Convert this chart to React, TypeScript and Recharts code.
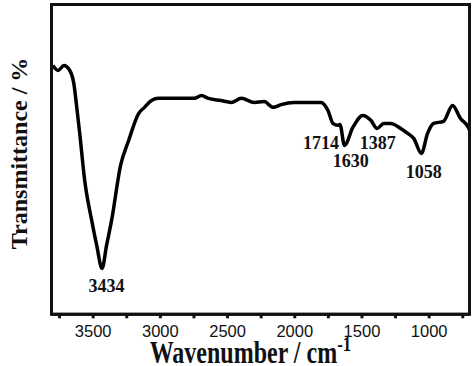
import {
  ComposedChart,
  Line,
  XAxis,
  YAxis,
  ReferenceDot,
  Label,
} from "recharts";

// FTIR spectrum (cm-1 vs relative transmittance)
const wavenumbers = [
  3800, 3760, 3718, 3674, 3644, 3622, 3600, 3563, 3511, 3474, 3434, 3400,
  3363, 3296, 3236, 3162, 3118, 3066, 3014, 2900, 2800, 2747, 2695, 2643,
  2550, 2473, 2398, 2302, 2228, 2161, 2102, 2005, 1900, 1805, 1753, 1716,
  1679, 1664, 1630, 1568, 1494, 1434, 1387, 1338, 1286, 1212, 1160, 1115,
  1058, 1012, 967, 893, 826, 767, 708, 700,
];
const transmittance = [
  80.3, 78.7, 80.3, 78.7, 74.5, 66.8, 58.4, 43.2, 30.3, 22.3, 14.8, 22.3,
  30.3, 48.1, 56.1, 64.8, 66.8, 69.0, 69.7, 69.7, 69.7, 69.7, 70.6, 69.7,
  69.0, 68.4, 69.7, 68.4, 68.7, 66.8, 67.7, 68.4, 68.4, 68.4, 65.8, 61.6,
  61.0, 61.3, 54.5, 60.3, 64.2, 62.6, 60.0, 61.6, 61.6, 60.0, 58.4, 56.8,
  51.9, 58.4, 61.6, 62.3, 67.4, 63.2, 60.3, 59.5,
];

const xTicks = [3750, 3500, 3250, 3000, 2750, 2500, 2250, 2000, 1750, 1500, 1250, 1000, 750];

// peak labels: text, wavenumber of text centre, transmittance of text baseline
const peakTexts = ["3434", "1714", "1387", "1630", "1058"];
const peakX = [3400, 1805, 1382, 1583, 1041];
const peakY = [7.1, 53.5, 53.5, 47.4, 43.9];

const data = wavenumbers.map((wn, i) => ({ wn, t: transmittance[i] }));

const serif = "'Liberation Serif', 'Times New Roman', serif";
const sans = "'Liberation Sans', Arial, sans-serif";
const PLOT_TOP = 4.5;

// frame + both axis titles, drawn from the bottom axis' box
const Decor = (props: any) => {
  const { x, y, width } = props.viewBox;
  return (
    <g>
      <rect
        x={x}
        y={PLOT_TOP}
        width={width}
        height={y - PLOT_TOP}
        fill="none"
        stroke="#111"
        strokeWidth={3}
      />
      <g transform={`translate(${x + width / 2 - 10}, ${y + 49}) scale(1, 1.28)`}>
        <text
          x={0}
          y={0}
          textAnchor="middle"
          fontFamily={serif}
          fontWeight="bold"
          fontSize={24}
          fill="#111"
        >
          Wavenumber / cm
          <tspan fontSize={17} dy={-10}>
            -1
          </tspan>
        </text>
      </g>
      <text
        transform={`translate(${x - 24.5}, ${(y + PLOT_TOP) / 2 - 6}) rotate(-90)`}
        textAnchor="middle"
        fontFamily={serif}
        fontWeight="bold"
        fontSize={24}
        fill="#111"
      >
        Transmittance / %
      </text>
    </g>
  );
};

const peakShape = (text: string) => (props: any) => (
  <text
    x={props.cx}
    y={props.cy}
    textAnchor="middle"
    fontFamily={serif}
    fontWeight="bold"
    fontSize={18}
    fill="#111"
  >
    {text}
  </text>
);

export default function App() {
  return (
    <div style={{ position: "absolute", left: 0, top: 0, background: "#fff" }}>
      <ComposedChart
        width={474}
        height={366}
        data={data}
        margin={{ top: PLOT_TOP, right: 4.5, left: 51.5, bottom: 0 }}
      >
        <XAxis
          dataKey="wn"
          type="number"
          domain={[700, 3810]}
          reversed
          allowDataOverflow
          ticks={xTicks}
          interval={0}
          height={51.7}
          tickSize={4}
          tickMargin={7}
          tickFormatter={(v: number) => (v % 500 === 0 ? String(v) : "")}
          tick={{ fill: "#111", fontSize: 16.5, fontFamily: sans }}
          tickLine={{ stroke: "#111", strokeWidth: 3 }}
          axisLine={{ stroke: "#111", strokeWidth: 3 }}
        >
          <Label content={Decor} />
        </XAxis>
        <YAxis type="number" domain={[0, 100]} hide />
        <Line
          type="monotone"
          dataKey="t"
          stroke="#000"
          strokeWidth={3.5}
          dot={false}
          activeDot={false}
          isAnimationActive={false}
        />
        {peakTexts.map((txt, i) => (
          <ReferenceDot
            key={txt}
            x={peakX[i]}
            y={peakY[i]}
            r={0}
            shape={peakShape(txt)}
            ifOverflow="visible"
          />
        ))}
      </ComposedChart>
    </div>
  );
}
